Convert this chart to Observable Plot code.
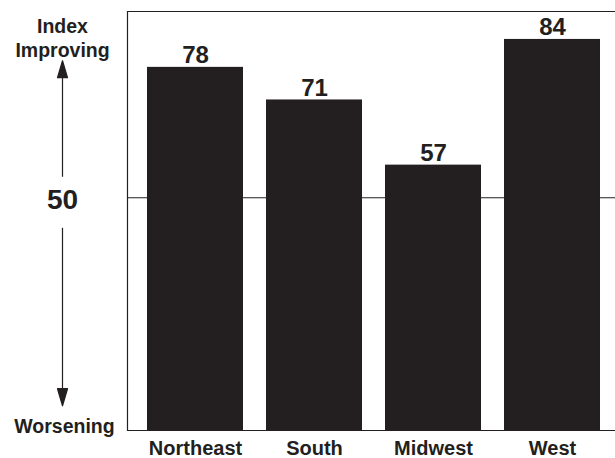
<!DOCTYPE html>
<html>
<head>
<meta charset="utf-8">
<script src="https://cdn.jsdelivr.net/npm/d3@7"></script>
<script src="https://cdn.jsdelivr.net/npm/@observablehq/plot@0.6"></script>
<style>
  html, body { margin: 0; padding: 0; background: #fff; overflow: hidden; }
  #chart { width: 615px; height: 458px; overflow: hidden; }
  #chart svg { display: block; max-width: none; overflow: hidden; }
</style>
</head>
<body>
<div id="chart"></div>
<script>
// Regional index readings
const regions = ["Northeast", "South", "Midwest", "West"];
const values = [78, 71, 57, 84];
const midline = 50;
const yDomain = [0, 90];
const topLabel = "Index\nImproving";
const bottomLabel = "Worsening";

const ink = "#231f20";
const font = "'Liberation Sans', Arial, Helvetica, sans-serif";

const data = regions.map((region, i) => ({region, value: values[i]}));

// Filled-head arrow drawn pointing up from the anchor point
const headArrow = {
  draw(context, l) {
    const head = 17, wing = 5;
    context.moveTo(0, 0);
    context.lineTo(0, -l + head);
    context.moveTo(-wing, -l + head);
    context.lineTo(0, -l);
    context.lineTo(wing, -l + head);
    context.closePath();
  }
};

// The plot area runs slightly past the right edge of the page,
// so its border is drawn on the left, top and bottom sides only
const chart = Plot.plot({
  width: 615,
  height: 458,
  marginLeft: 127,
  marginRight: -6,
  marginTop: 11,
  marginBottom: 28,
  style: {fontFamily: font, color: ink, background: "#fff", maxWidth: "none", overflow: "hidden"},
  x: {domain: regions, paddingInner: 0.19, paddingOuter: 0.17, label: null},
  y: {domain: yDomain, axis: null},
  marks: [
    Plot.ruleY([midline], {stroke: ink, strokeWidth: 1.1}),
    Plot.barY(data, {x: "region", y: "value", fill: ink}),
    Plot.ruleY(yDomain, {stroke: ink, strokeWidth: 1.2}),
    Plot.frame({anchor: "left", stroke: ink, strokeWidth: 1.2}),
    Plot.text(data, {
      x: "region", y: "value", text: d => String(d.value),
      lineAnchor: "bottom", dy: -4,
      fontSize: 24, fontWeight: "bold", fill: ink
    }),
    Plot.axisX({
      tickSize: 0, tickPadding: 10, fontSize: 20, fontWeight: "bold",
      fill: ink, label: null
    }),
    // Left-hand scale annotation
    Plot.text([topLabel], {
      frameAnchor: "top-left", dx: -65, dy: 5, lineAnchor: "top",
      textAnchor: "middle", lineHeight: 1.2,
      fontSize: 19.5, fontWeight: "bold", fill: ink
    }),
    Plot.text([midline], {
      y: d => d, text: d => String(d), frameAnchor: "left", dx: -65, dy: 2,
      textAnchor: "middle", lineAnchor: "middle",
      fontSize: 28, fontWeight: "bold", fill: ink
    }),
    Plot.text([bottomLabel], {
      frameAnchor: "bottom-left", dx: -63, dy: 2, lineAnchor: "bottom",
      textAnchor: "middle",
      fontSize: 19.5, fontWeight: "bold", fill: ink
    }),
    Plot.vector([midline], {
      y: d => d, frameAnchor: "left", dx: -65, dy: -21,
      length: 116, rotate: 0, anchor: "start", shape: headArrow,
      stroke: ink, fill: ink, strokeWidth: 1.2, strokeLinecap: "butt"
    }),
    Plot.vector([midline], {
      y: d => d, frameAnchor: "left", dx: -65, dy: 30,
      length: 178, rotate: 180, anchor: "start", shape: headArrow,
      stroke: ink, fill: ink, strokeWidth: 1.2, strokeLinecap: "butt"
    })
  ]
});

document.getElementById("chart").appendChild(chart);
</script>
</body>
</html>
